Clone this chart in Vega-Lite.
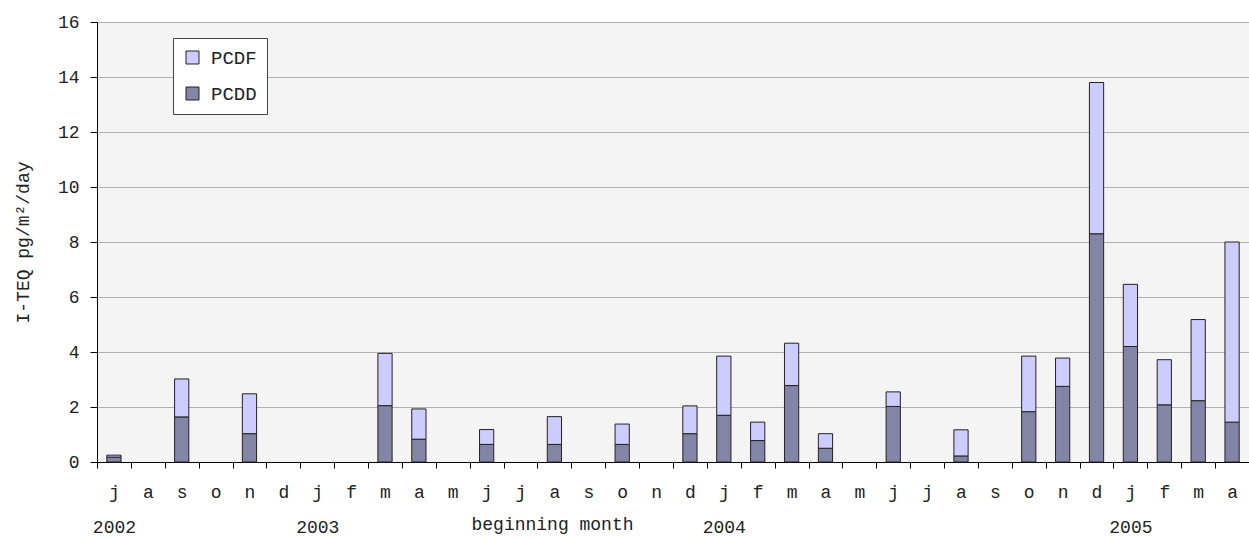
{
  "$schema": "https://vega.github.io/schema/vega-lite/v6.json",
  "width": 1152,
  "height": 440,
  "autosize": "none",
  "padding": {"left": 97, "top": 22, "right": 0, "bottom": 77},
  "background": "white",
  "config": {
    "view": {"fill": "#f4f4f4", "stroke": "#404040", "strokeWidth": 1},
    "font": "Liberation Mono"
  },
  "data": {
    "values": [
      {"month": "2002-07", "component": "PCDD", "value": 0.18},
      {"month": "2002-07", "component": "PCDF", "value": 0.07},
      {"month": "2002-09", "component": "PCDD", "value": 1.64},
      {"month": "2002-09", "component": "PCDF", "value": 1.38},
      {"month": "2002-11", "component": "PCDD", "value": 1.03},
      {"month": "2002-11", "component": "PCDF", "value": 1.45},
      {"month": "2003-03", "component": "PCDD", "value": 2.05},
      {"month": "2003-03", "component": "PCDF", "value": 1.9},
      {"month": "2003-04", "component": "PCDD", "value": 0.83},
      {"month": "2003-04", "component": "PCDF", "value": 1.1},
      {"month": "2003-06", "component": "PCDD", "value": 0.64},
      {"month": "2003-06", "component": "PCDF", "value": 0.54},
      {"month": "2003-08", "component": "PCDD", "value": 0.64},
      {"month": "2003-08", "component": "PCDF", "value": 1.01},
      {"month": "2003-10", "component": "PCDD", "value": 0.64},
      {"month": "2003-10", "component": "PCDF", "value": 0.74},
      {"month": "2003-12", "component": "PCDD", "value": 1.03},
      {"month": "2003-12", "component": "PCDF", "value": 1.01},
      {"month": "2004-01", "component": "PCDD", "value": 1.7},
      {"month": "2004-01", "component": "PCDF", "value": 2.15},
      {"month": "2004-02", "component": "PCDD", "value": 0.78},
      {"month": "2004-02", "component": "PCDF", "value": 0.67},
      {"month": "2004-03", "component": "PCDD", "value": 2.78},
      {"month": "2004-03", "component": "PCDF", "value": 1.54},
      {"month": "2004-04", "component": "PCDD", "value": 0.5},
      {"month": "2004-04", "component": "PCDF", "value": 0.53},
      {"month": "2004-06", "component": "PCDD", "value": 2.02},
      {"month": "2004-06", "component": "PCDF", "value": 0.53},
      {"month": "2004-08", "component": "PCDD", "value": 0.22},
      {"month": "2004-08", "component": "PCDF", "value": 0.95},
      {"month": "2004-10", "component": "PCDD", "value": 1.83},
      {"month": "2004-10", "component": "PCDF", "value": 2.02},
      {"month": "2004-11", "component": "PCDD", "value": 2.75},
      {"month": "2004-11", "component": "PCDF", "value": 1.03},
      {"month": "2004-12", "component": "PCDD", "value": 8.3},
      {"month": "2004-12", "component": "PCDF", "value": 5.5},
      {"month": "2005-01", "component": "PCDD", "value": 4.2},
      {"month": "2005-01", "component": "PCDF", "value": 2.26},
      {"month": "2005-02", "component": "PCDD", "value": 2.08},
      {"month": "2005-02", "component": "PCDF", "value": 1.64},
      {"month": "2005-03", "component": "PCDD", "value": 2.23},
      {"month": "2005-03", "component": "PCDF", "value": 2.95},
      {"month": "2005-04", "component": "PCDD", "value": 1.45},
      {"month": "2005-04", "component": "PCDF", "value": 6.55}
    ]
  },
  "mark": {"type": "bar", "width": {"band": 0.42}, "stroke": "#222222", "strokeWidth": 1},
  "encoding": {
    "x": {
      "field": "month",
      "type": "ordinal",
      "scale": {
        "domain": ["2002-07","2002-08","2002-09","2002-10","2002-11","2002-12","2003-01","2003-02","2003-03","2003-04","2003-05","2003-06","2003-07","2003-08","2003-09","2003-10","2003-11","2003-12","2004-01","2004-02","2004-03","2004-04","2004-05","2004-06","2004-07","2004-08","2004-09","2004-10","2004-11","2004-12","2005-01","2005-02","2005-03","2005-04"],
        "paddingInner": 0,
        "paddingOuter": 0
      },
      "axis": {
        "title": "beginning month",
        "titleFont": "Liberation Mono",
        "titleFontSize": 18,
        "titleFontWeight": "normal",
        "titleColor": "#222222",
        "titleX": 455,
        "titleY": 62,
        "titleBaseline": "middle",
        "titleAlign": "center",
        "labelExpr": "isString(datum.value) ? [substring('jfmamjjasond', toNumber(slice(datum.value,5))-1, toNumber(slice(datum.value,5))), datum.value=='2002-07' ? '\u00a02002' : (slice(datum.value,5)=='01' ? '\u00a0\u00a0' + slice(datum.value,0,4) : '')] : ''",
        "labelAngle": 0,
        "labelFont": "Liberation Mono",
        "labelFontSize": 18,
        "labelColor": "#222222",
        "labelLineHeight": 35,
        "labelBaseline": "top",
        "labelPadding": 15,
        "tickBand": "extent",
        "tickSize": 6,
        "tickColor": "#000000",
        "domainColor": "#000000",
        "grid": false
      }
    },
    "y": {
      "field": "value",
      "type": "quantitative",
      "stack": "zero",
      "scale": {"domain": [0, 16], "nice": false},
      "axis": {
        "title": "I-TEQ pg/m²/day",
        "values": [0, 2, 4, 6, 8, 10, 12, 14, 16],
        "grid": true,
        "gridColor": "#b0b0b0",
        "gridWidth": 1,
        "tickSize": 7,
        "tickColor": "#000000",
        "domainColor": "#000000",
        "labelPadding": 11,
        "labelFont": "Liberation Mono",
        "labelFontSize": 18,
        "labelColor": "#222222",
        "titleFont": "Liberation Mono",
        "titleFontSize": 18,
        "titleFontWeight": "normal",
        "titleColor": "#222222",
        "titleX": -74,
        "titleY": 220,
        "titleBaseline": "middle",
        "titleAlign": "center"
      }
    },
    "color": {
      "field": "component",
      "type": "nominal",
      "scale": {"domain": ["PCDF", "PCDD"], "range": ["#ccccff", "#8385a6"]},
      "legend": {
        "orient": "none",
        "legendX": 76,
        "legendY": 16,
        "title": null,
        "fillColor": "white",
        "strokeColor": "#444444",
        "padding": 10,
        "labelFont": "Liberation Mono",
        "labelFontSize": 19,
        "labelColor": "#222222",
        "labelOffset": 9,
        "symbolType": "square",
        "symbolSize": 169,
        "symbolStrokeColor": "#222222",
        "symbolStrokeWidth": 1,
        "symbolOpacity": 1,
        "rowPadding": 16
      }
    },
    "order": {"field": "component", "sort": "ascending"}
  }
}
